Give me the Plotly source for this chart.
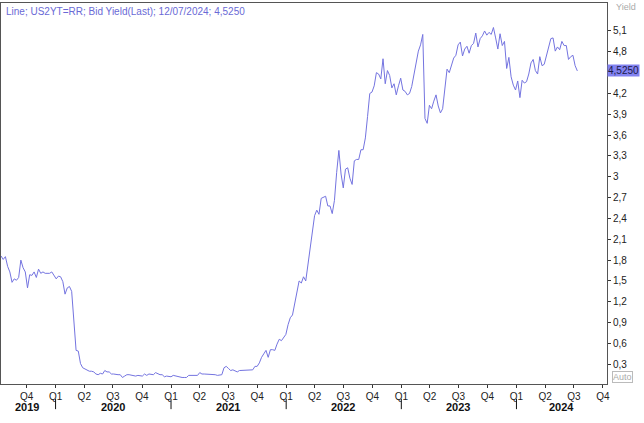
import plotly.graph_objects as go
import pandas as pd

# Weekly (Friday) US 2Y yield readings, Jul 12 2019 .. Jul 12 2024
y2019 = [1.86, 1.81, 1.85,
         1.71, 1.63, 1.48, 1.53, 1.51,
         1.55, 1.80, 1.69, 1.63,
         1.40, 1.59, 1.58, 1.63,
         1.55, 1.67, 1.61, 1.63, 1.61,
         1.61, 1.61, 1.63, 1.58]
y2020 = [1.53, 1.57, 1.56, 1.49, 1.31,
         1.40, 1.42, 1.35, 0.91,
         0.50, 0.49, 0.31, 0.25,
         0.23, 0.22, 0.20, 0.20,
         0.19, 0.16, 0.15, 0.17, 0.16,
         0.21, 0.19, 0.19, 0.16,
         0.16, 0.15, 0.15, 0.15, 0.11,
         0.13, 0.15, 0.15, 0.14,
         0.14, 0.13, 0.14, 0.13,
         0.13, 0.16, 0.14, 0.16, 0.15,
         0.15, 0.18, 0.16, 0.15,
         0.15, 0.12, 0.13, 0.12]
y2021 = [0.12, 0.14, 0.13, 0.12, 0.11,
         0.11, 0.11, 0.11, 0.14,
         0.14, 0.15, 0.15, 0.14,
         0.18, 0.16, 0.16, 0.16, 0.16,
         0.15, 0.15, 0.15, 0.14,
         0.14, 0.15, 0.25, 0.27,
         0.24, 0.21, 0.22, 0.20, 0.19,
         0.21, 0.21, 0.22, 0.21,
         0.21, 0.21, 0.22, 0.27,
         0.27, 0.32, 0.40, 0.45, 0.50,
         0.40, 0.51, 0.51, 0.50,
         0.59, 0.66, 0.64, 0.68, 0.73]
y2022 = [0.87, 0.97, 1.01, 1.17,
         1.31, 1.50, 1.47, 1.56,
         1.50, 1.75, 1.94, 2.27,
         2.44, 2.52, 2.46, 2.69, 2.70,
         2.72, 2.58, 2.58, 2.47,
         2.66, 3.06, 3.38, 3.04,
         2.84, 3.11, 3.13, 2.98, 2.89,
         3.23, 3.25, 3.25, 3.39,
         3.39, 3.56, 3.87, 4.20, 4.22,
         4.31, 4.50, 4.48, 4.41,
         4.70, 4.34, 4.53, 4.46,
         4.28, 4.34, 4.18, 4.31, 4.42]
y2023 = [4.25, 4.23, 4.18, 4.20,
         4.30, 4.49, 4.62, 4.81,
         4.90, 5.05, 3.84, 3.77, 4.03,
         3.98, 4.09, 4.18, 4.02,
         3.92, 3.98, 4.27, 4.55,
         4.50, 4.61, 4.71, 4.75, 4.90,
         4.94, 4.74, 4.84, 4.88,
         4.78, 4.89, 4.92, 5.07,
         4.87, 4.99, 5.03, 5.10, 5.04,
         5.08, 5.05, 5.15, 5.00,
         4.84, 5.06, 4.89, 4.95,
         4.56, 4.72, 4.44, 4.32, 4.25]
y2024 = [4.38, 4.14, 4.39, 4.35,
         4.37, 4.48, 4.64, 4.69,
         4.53, 4.48, 4.73, 4.60, 4.62,
         4.75, 4.89, 4.99, 5.00,
         4.81, 4.87, 4.83, 4.95, 4.89,
         4.89, 4.69, 4.73, 4.75,
         4.60, 4.525]

yields = y2019 + y2020 + y2021 + y2022 + y2023 + y2024
dates = pd.date_range("2019-07-12", "2024-07-12", freq="W-FRI")
assert len(dates) == len(yields), (len(dates), len(yields))

last_value = 4.525
last_label = "4,5250"
legend_text = "Line; US2YT=RR; Bid Yield(Last); 12/07/2024; 4,5250"

y_ticks = [0.3, 0.6, 0.9, 1.2, 1.5, 1.8, 2.1, 2.4, 2.7, 3.0, 3.3, 3.6, 3.9, 4.2, 4.5, 4.8, 5.1]
y_ticktext = ["0,3", "0,6", "0,9", "1,2", "1,5", "1,8", "2,1", "2,4", "2,7", "3", "3,3",
              "3,6", "3,9", "4,2", "", "4,8", "5,1"]

q_ticks = pd.date_range("2019-10-01", "2024-10-01", freq="QS")
q_text = ["Q%d" % d.quarter for d in q_ticks]

year_labels = ["2019", "2020", "2021", "2022", "2023", "2024"]
year_label_pos = ["2019-10-01", "2020-07-01", "2021-07-01", "2022-07-01", "2023-07-01", "2024-05-23"]
year_starts = ["2020-01-01", "2021-01-01", "2022-01-01", "2023-01-01", "2024-01-01"]

LINE = "#7474e0"
FONT = "Liberation Sans"

fig = go.Figure()
fig.add_trace(go.Scatter(x=dates, y=yields, mode="lines",
                         line=dict(color=LINE, width=1), hoverinfo="skip"))

fig.update_layout(
    width=644, height=423,
    margin=dict(l=1, r=37, t=3, b=39),
    paper_bgcolor="white", plot_bgcolor="white",
    showlegend=False,
    font=dict(family=FONT, size=10, color="#222222"),
    xaxis=dict(
        type="date", range=["2019-07-12", "2024-10-14"],
        tickmode="array", tickvals=q_ticks, ticktext=q_text,
        ticks="outside", ticklen=3, tickcolor="#333333", tickwidth=1,
        showgrid=False, zeroline=False,
        showline=True, linecolor="#555555", linewidth=1, mirror=True,
        tickfont=dict(family=FONT, size=10, color="#222222"),
    ),
    yaxis=dict(
        side="right", range=[0.016, 5.503],
        tickmode="array", tickvals=y_ticks, ticktext=y_ticktext,
        ticks="outside", ticklen=3, tickcolor="#333333", tickwidth=1,
        showgrid=False, zeroline=False,
        showline=True, linecolor="#555555", linewidth=1, mirror=True,
        tickfont=dict(family=FONT, size=10, color="#222222"),
    ),
)

annotations = []
for lab, pos in zip(year_labels, year_label_pos):
    annotations.append(dict(x=pos, xref="x", y=0, yref="paper", yanchor="top",
                            yshift=-15, text="<b>%s</b>" % lab, showarrow=False,
                            font=dict(family=FONT, size=11, color="#111111")))
annotations.append(dict(x=0, xref="paper", y=1, yref="paper", xanchor="left", yanchor="top",
                        xshift=3, yshift=-1, text=legend_text, showarrow=False,
                        font=dict(family=FONT, size=10, color="#6a6ad6")))
annotations.append(dict(x=1, xref="paper", y=1, yref="paper", xanchor="left", yanchor="middle",
                        xshift=7, yshift=-4, text="Yield", showarrow=False,
                        font=dict(family=FONT, size=9, color="#aaaaaa")))
annotations.append(dict(x=1, xref="paper", y=last_value, yref="y", xanchor="left", yanchor="middle",
                        xshift=0, text=last_label, showarrow=False, bgcolor="#8282f0",
                        borderpad=0, font=dict(family=FONT, size=10, color="#1a1a4a")))
annotations.append(dict(x=1, xref="paper", y=0, yref="paper", xanchor="left", yanchor="bottom",
                        xshift=5, yshift=1, text="Auto", showarrow=False, bordercolor="#bbbbbb",
                        borderwidth=1, borderpad=0, bgcolor="white",
                        font=dict(family=FONT, size=9, color="#aaaaaa")))
fig.update_layout(annotations=annotations)

shapes = []
for ys in year_starts:
    shapes.append(dict(type="line", xref="x", yref="paper", x0=ys, x1=ys,
                       y0=-0.039, y1=-0.066, line=dict(color="#111111", width=1)))
fig.update_layout(shapes=shapes)

fig.write_html("out.html", config={"displayModeBar": False},
               post_script="document.body.style.margin='0px';")
